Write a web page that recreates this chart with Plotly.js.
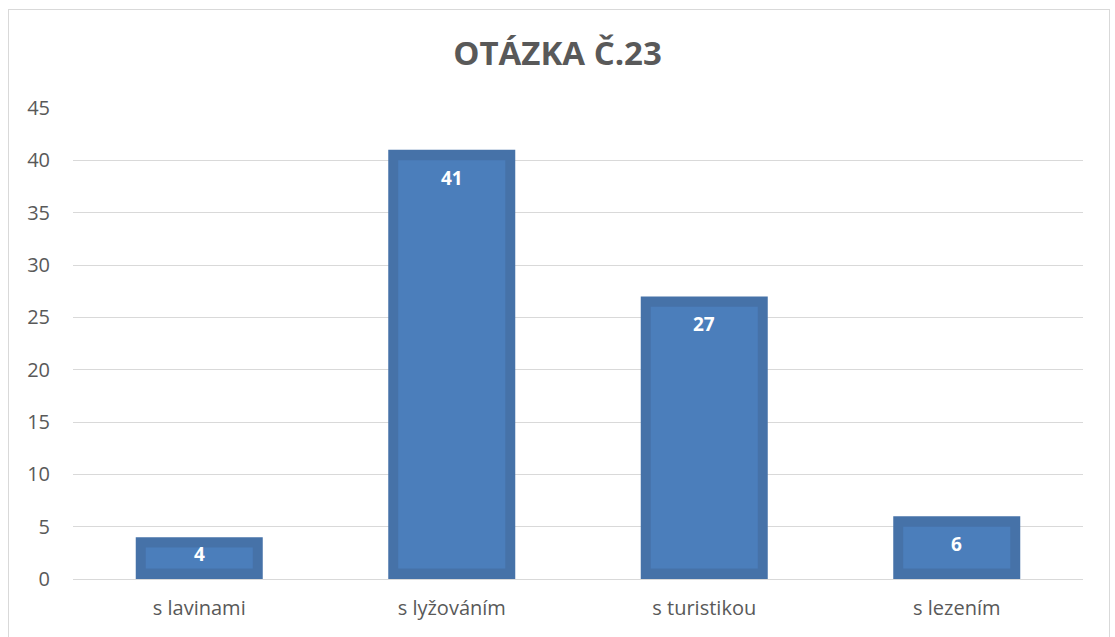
<!DOCTYPE html>
<html><head><meta charset="utf-8">
<script src="https://cdn.plot.ly/plotly-3.0.1.min.js"></script>
<style>
html,body{margin:0;padding:0;background:#fff;width:1115px;height:637px;overflow:hidden;}
#frame{position:absolute;left:8px;top:9px;width:1102px;height:700px;border:1px solid #d9d9d9;box-sizing:border-box;}
#chart{position:absolute;left:0;top:0;width:1115px;height:637px;}
</style></head>
<body><div id="frame"></div><div id="chart"></div>
<script>
const categories = ["s lavinami", "s lyžováním", "s turistikou", "s lezením"];
const values = [4, 41, 27, 6];
const yTicks = [0, 5, 10, 15, 20, 25, 30, 35, 40, 45];
const chartTitle = "OTÁZKA Č.23";

const M = {l:73, r:32, t:108, b:58};
const H = 637, yMax = 45;
const plotH = H - M.t - M.b;
const font = "Open Sans, sans-serif";

const outer = {
  type:'bar', x:categories, y:values, width:0.503,
  marker:{color:'#4672A8', line:{width:0}}, hoverinfo:'skip', showlegend:false
};
const inner = {
  type:'bar', x:categories, y:values.map(v=>v-2), base:values.map(()=>1), width:0.424,
  marker:{color:'#4B7EBB', line:{width:0}}, hoverinfo:'skip', showlegend:false
};
const annotations = categories.map((c,i)=>{
  const h = values[i]*plotH/yMax;
  return {x:c, y:values[i], xref:'x', yref:'y', text:'<b>'+values[i]+'</b>', showarrow:false,
    yanchor:'middle', yshift:-Math.min(28, h/2-4), font:{family:font, size:19, color:'#ffffff'}};
});

Plotly.newPlot('chart', [outer, inner], {
  width:1115, height:637, margin:M,
  paper_bgcolor:'rgba(0,0,0,0)', plot_bgcolor:'rgba(0,0,0,0)',
  barmode:'overlay',
  title:{text:'<b>'+chartTitle+'</b>', xref:'container', x:0.5, xanchor:'center', yref:'container', y:1-53/637, yanchor:'middle',
    font:{family:font, size:33, color:'#595959'}},
  xaxis:{type:'category', showgrid:false, zeroline:false, showline:false, ticks:'',
    ticklabelstandoff:15, tickfont:{family:font, size:20, color:'#595959'}},
  yaxis:{range:[0,yMax], tickvals:yTicks, ticktext:yTicks.map(String), showgrid:true, gridcolor:'#d9d9d9', gridwidth:1,
    zeroline:true, zerolinecolor:'#d9d9d9', zerolinewidth:1, showline:false, ticks:'',
    ticklabelstandoff:22, tickfont:{family:font, size:20, color:'#595959'}},
  annotations:annotations
}, {staticPlot:true});
</script></body></html>
